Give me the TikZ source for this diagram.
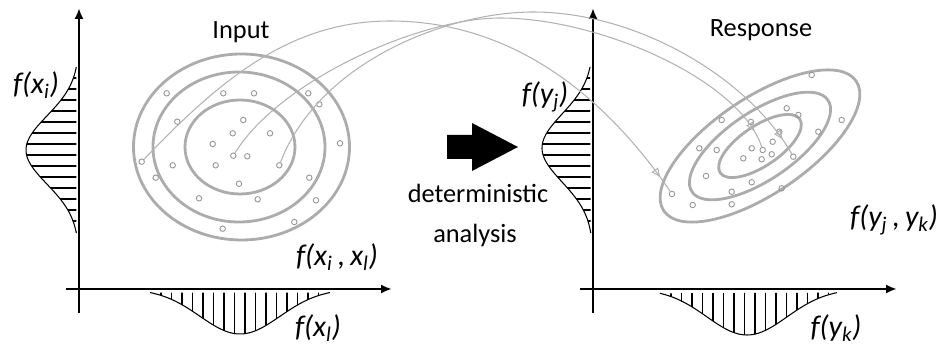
\documentclass[tikz,border=0pt]{standalone}
\usepackage{fontspec}
\setmainfont{Carlito}
\usetikzlibrary{arrows.meta,decorations.markings}
\definecolor{ringgray}{RGB}{172,172,172}
\definecolor{linkgray}{RGB}{178,178,178}
\definecolor{dotgray}{RGB}{150,150,150}

\begin{document}
\begin{tikzpicture}[x=0.02cm, y=-0.02cm,
    axis/.style={line width=1.4pt, -{Latex[length=2.2mm,width=1.8mm]}},
    ring/.style={draw=ringgray, line width=1.6pt},
    dot/.style={circle, draw=dotgray, line width=0.5pt, inner sep=0pt, minimum size=1.1mm},
    link/.style={draw=linkgray, line width=0.6pt, postaction={decorate},
      decoration={markings, mark=at position -0.35cm with {\arrow{Triangle[open,length=1.8mm,width=1.6mm]}}}},
    hatch/.style={line width=0.6pt},
    lbl/.style={font=\fontsize{15}{17}\selectfont},
    fn/.style={font=\fontsize{17}{19}\selectfont\itshape}
  ]
    \useasboundingbox (0,0) rectangle (938,347);

    % input panel
    \begin{scope}
      \clip plot[domain=67:233, samples=60, variable=\t] ({79-53*exp(-(\t-150)*(\t-150)/2312)}, \t) -- cycle;
      \foreach \yy in {78,89,...,232} \draw[hatch] (20,\yy) -- (79,\yy);
    \end{scope}
    \draw[hatch] plot[domain=67:233, samples=60, variable=\t] ({79-53*exp(-(\t-150)*(\t-150)/2312)}, \t);
    \begin{scope}
      \clip plot[domain=150:330, samples=60, variable=\t] (\t, {289+45*exp(-(\t-240)*(\t-240)/3200)}) -- cycle;
      \foreach \xx in {150.5,161,...,330} \draw[hatch] (\xx,289) -- (\xx,340);
    \end{scope}
    \draw[hatch] plot[domain=150:330, samples=60, variable=\t] (\t, {289+45*exp(-(\t-240)*(\t-240)/3200)});
    \draw[axis] (79,313) -- (79,8);
    \draw[axis] (66,289) -- (392,289);

    \draw[ring] (241.5,147) ellipse [x radius=108, y radius=93];
    \draw[ring] (239,147) ellipse [x radius=86, y radius=75];
    \draw[ring] (240,147) ellipse [x radius=55, y radius=47];
    \foreach \p in {(166.7,93.3),(223.3,93.3),(254,93.3),(308.3,93.3),(319.3,104.3),(177.3,121.7),
        (243.3,120),(232.7,133.3),(270,133.3),(212.7,144),(340,143.3),(172.7,165.3),(215.7,165.3),
        (247.3,156.3),(155.7,177.7),(239,183.7),(309.3,177.7),(199,198.3),(257.7,199.3),(316,200.3),
        (222.7,228.7),(294.3,222)}
      \node[dot] at \p {};
    \node[dot] (a1) at (141.7,161.7) {};
    \node[dot] (a2) at (233.3,155.7) {};
    \node[dot] (a3) at (279.3,165.3) {};

    \node[lbl] (inp) at (241,32) {Input};
    \node[fn] (fxi) at (36,85) {f(x\textsubscript{i})};
    \node[fn] (fxil) at (337,257) {f(x\textsubscript{i}\,,\,x\textsubscript{l})};
    \node[fn] (fxl) at (318,328) {f(x\textsubscript{l})};

    % analysis arrow
    \fill (447,135) -- (472,135) -- (472,123) -- (518,147) -- (472,171) -- (472,159) -- (447,159) -- cycle;
    \node[lbl] (det) at (478,193) {deterministic};
    \node[lbl] (ana) at (475,235) {analysis};

    % response panel
    \begin{scope}
      \clip plot[domain=67:233, samples=60, variable=\t] ({593-51*exp(-(\t-148)*(\t-148)/2312)}, \t) -- cycle;
      \foreach \yy in {78,89,...,232} \draw[hatch] (530,\yy) -- (593,\yy);
    \end{scope}
    \draw[hatch] plot[domain=67:233, samples=60, variable=\t] ({593-51*exp(-(\t-148)*(\t-148)/2312)}, \t);
    \begin{scope}
      \clip plot[domain=660:837, samples=60, variable=\t] (\t, {289+46*exp(-(\t-747)*(\t-747)/3200)}) -- cycle;
      \foreach \xx in {660.5,671,...,837} \draw[hatch] (\xx,289) -- (\xx,340);
    \end{scope}
    \draw[hatch] plot[domain=660:837, samples=60, variable=\t] (\t, {289+46*exp(-(\t-747)*(\t-747)/3200)});
    \draw[axis] (593,313) -- (593,8);
    \draw[axis] (580,289) -- (897,289);

    \draw[ring, rotate around={34:(760,146)}] (760,146) ellipse [x radius=116, y radius=48];
    \draw[ring, rotate around={34:(760,146)}] (760,146) ellipse [x radius=82, y radius=34];
    \draw[ring, rotate around={34:(760,146)}] (760,146) ellipse [x radius=48, y radius=20];
    \foreach \p in {(811.7,75),(786.7,108.3),(798.3,115),(841.7,120),(721.7,120),(779.3,131.7),
        (818.3,131.7),(772.7,141.7),(699.3,148.3),(716.7,150),(751.7,148.3),(771.7,154.3),
        (743.3,158.3),(761.7,159.3),(706,176),(751.7,182.3),(731.7,191.7),(781.7,188.3),
        (692.7,205),(731.7,204.3),(751,122)}
      \node[dot] at \p {};
    \node[dot] (b1) at (672,194) {};
    \node[dot] (b2) at (762.7,150) {};
    \node[dot] (b3) at (793.3,156.7) {};

    \node[lbl] (resp) at (761,30) {Response};
    \node[fn] (fyj) at (545,97) {f(y\textsubscript{j})};
    \node[fn] (fyjk) at (894,220) {f(y\textsubscript{j}\,,\,y\textsubscript{k})};
    \node[fn] (fyk) at (836,328) {f(y\textsubscript{k})};

    % sample mapping
    \draw[link] (a1) .. controls (220,80) and (290,21) .. (390,21) .. controls (510,21) and (603,93) .. (b1);
    \draw[link] (a2) .. controls (280,80) and (420,18) .. (500,18) .. controls (600,18) and (740,80) .. (b2);
    \draw[link] (a3) .. controls (320,60) and (450,12) .. (533,12) .. controls (640,12) and (750,80) .. (b3);
  \end{tikzpicture}
\end{document}
